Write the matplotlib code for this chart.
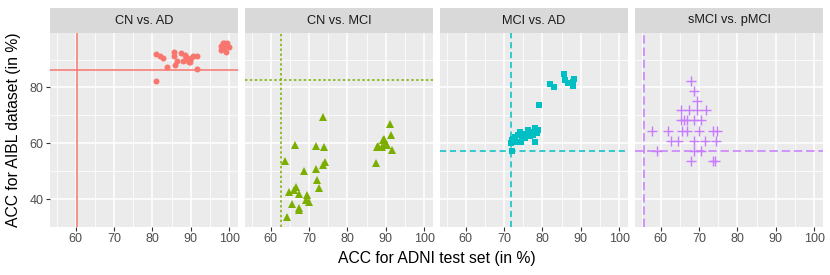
import numpy as np
from matplotlib import pyplot as plt

plt.rcParams['font.family'] = ['Liberation Sans', 'DejaVu Sans']

# Daten je Vergleich (ADNI-Test, AIBL)
titles = ["CN vs. AD", "CN vs. MCI", "MCI vs. AD", "sMCI vs. pMCI"]

ad_x = [81.0, 82.0, 82.7, 83.9, 81.0, 85.7, 85.7, 86.4, 86.0, 87.4, 88.5, 88.7, 89.0, 89.5,
        90.0, 90.5, 91.6, 91.6, 88.0, 89.9, 97.9, 98.6, 99.2, 99.9, 97.9, 99.2, 98.6, 98.3, 99.5]
ad_y = [91.8, 91.3, 90.6, 87.3, 82.2, 92.7, 91.1, 89.4, 88.0, 92.3, 91.5, 90.8, 89.9, 89.2,
        90.4, 91.3, 91.3, 86.5, 89.5, 89.0, 95.0, 95.8, 95.4, 94.4, 93.5, 92.6, 94.2, 96.0, 95.8]

mci_x = [73.7, 91.1, 89.5, 91.25, 89.3, 87.6, 88.9, 90.2, 91.5, 87.4, 89.8, 88.0,
         66.3, 71.8, 74.0, 63.7, 68.75, 71.8, 73.7, 74.2, 72.1, 72.5, 64.8, 66.1, 66.6,
         67.4, 69.5, 69.2, 70.0, 65.5, 67.4, 67.5, 64.3]
mci_y = [69.4, 66.8, 61.7, 62.9, 61.3, 58.7, 58.7, 59.3, 57.5, 52.75, 59.9, 58.9,
         59.3, 58.9, 58.5, 53.6, 50.0, 50.6, 52.3, 53.2, 46.8, 44.0, 42.4, 43.2, 44.2,
         41.8, 41.4, 39.6, 39.0, 38.2, 36.7, 36.2, 33.5]

mad_x = [85.6, 85.9, 86.7, 88.2, 87.9, 88.0, 82.0, 83.0, 79.0,
         72.0, 71.8, 72.0, 72.4, 72.8, 73.3, 74.1, 74.3, 75.0, 75.5, 75.9, 76.3,
         76.8, 77.2, 77.6, 78.0, 78.0, 78.5, 78.9, 73.5, 74.8]
mad_y = [84.9, 82.8, 81.6, 83.1, 82.0, 80.4, 81.3, 80.1, 73.6,
         57.3, 60.0, 61.1, 61.7, 62.3, 60.5, 64.0, 60.5, 63.2, 62.0, 63.2, 64.6,
         62.5, 64.0, 62.9, 65.3, 60.3, 63.8, 64.6, 62.8, 61.8]

smci_x = [67.8, 68.7, 69.5, 65.2, 67.4, 69.5, 71.8, 65.2, 66.1, 66.8, 68.7, 70.4,
          57.7, 62.0, 65.5, 66.8, 70.1, 73.5, 74.7, 62.6, 64.6, 68.7, 71.5, 74.4,
          59.0, 68.7, 70.4, 67.8, 73.5, 74.2]
smci_y = [82.25, 78.7, 75.1, 71.8, 71.8, 71.8, 71.8, 68.2, 68.2, 68.2, 68.2, 68.2,
          64.4, 64.4, 64.4, 64.4, 64.4, 64.4, 64.4, 60.8, 60.8, 60.8, 60.8, 60.8,
          57.25, 57.25, 57.25, 53.7, 53.7, 53.7]

# Referenzlinien (Baseline)
base_x = [60.3, 62.6, 71.9, 55.6]
base_y = [86.4, 82.6, 57.25, 57.25]

xs = [ad_x, mci_x, mad_x, smci_x]
ys = [ad_y, mci_y, mad_y, smci_y]
colors = ["#F8766D", "#7CAE00", "#00BFC4", "#C77CFF"]
markers = ["o", "^", "s", "+"]
msizes = [4.3, 5.4, 4.0, 7.0]
dashes = [None, (1.6, 1.6), (4, 2.5), (5.5, 2.5)]

fig = plt.figure(figsize=(8.3, 2.75), dpi=100)
W, H = 830, 275
lefts = [50, 245, 440, 635]
pw = 188
top, bot = 33, 227

for i in range(4):
    ax = fig.add_axes([lefts[i]/W, 1 - bot/H, pw/W, (bot - top)/H])
    ax.set_facecolor("#EBEBEB")
    for s in ax.spines.values():
        s.set_visible(False)
    ax.set_xlim(53.3, 102.3)
    ax.set_ylim(30.0, 99.5)
    ax.set_xticks([60, 70, 80, 90, 100])
    ax.set_xticks([55, 65, 75, 85, 95], minor=True)
    ax.set_yticks([40, 60, 80])
    ax.set_yticks([30, 50, 70, 90], minor=True)
    ax.grid(which="major", color="white", lw=1.1)
    ax.grid(which="minor", color="white", lw=0.55)
    ax.set_axisbelow(True)
    ax.tick_params(which="major", length=3, width=0.8, color="#333333",
                   labelsize=9, labelcolor="#4D4D4D", pad=1.5)
    ax.tick_params(which="minor", length=0)
    if i > 0:
        ax.tick_params(axis="y", left=False, labelleft=False)

    kw = dict(color=colors[i], lw=1.1)
    if dashes[i] is not None:
        kw["dashes"] = dashes[i]
    ax.axhline(base_y[i], **kw)
    ax.axvline(base_x[i], **kw)

    ax.plot(xs[i], ys[i], linestyle="None", marker=markers[i], ms=msizes[i],
            color=colors[i], mew=1.0 if markers[i] == "+" else 0)

    # Streifen mit Titel
    st = fig.add_axes([lefts[i]/W, 1 - top/H, pw/W, 25/H])
    st.set_facecolor("#D9D9D9")
    st.set_xticks([])
    st.set_yticks([])
    for s in st.spines.values():
        s.set_visible(False)
    st.text(0.5, 0.5, titles[i], ha="center", va="center", fontsize=9.2,
            color="#1A1A1A", transform=st.transAxes)

fig.text(436.5/W, 1 - 258/H, "ACC for ADNI test set (in %)", ha="center", va="center", fontsize=11.3)
fig.text(14/W, 1 - 130/H, "ACC for AIBL dataset (in %)", ha="center", va="center",
         rotation=90, fontsize=11.3)

plt.savefig("out.png", dpi=100)
